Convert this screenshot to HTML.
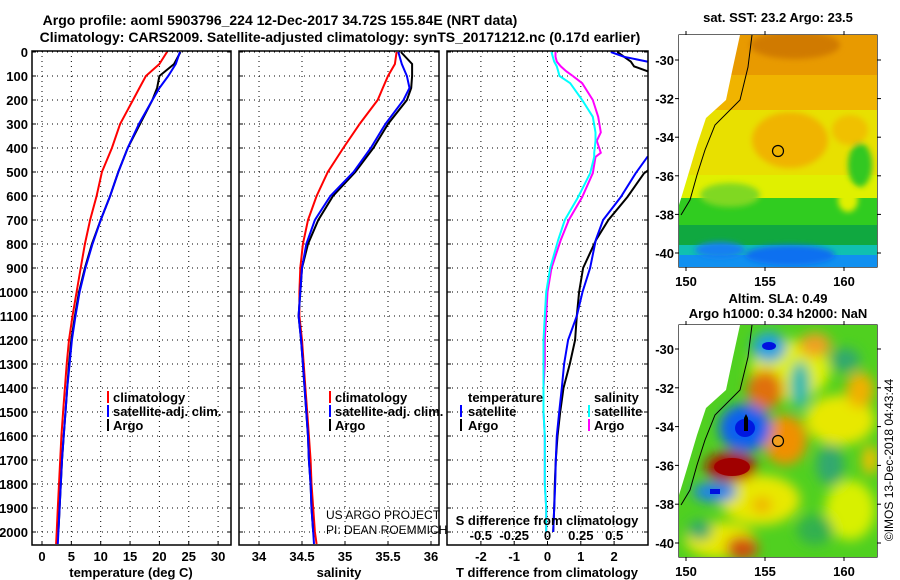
<!DOCTYPE html>
<html><head><meta charset="utf-8"><style>
html,body{margin:0;padding:0;background:#fff;width:900px;height:580px;overflow:hidden}
svg{display:block}
text{font-family:"Liberation Sans",sans-serif;fill:#000}
.b{font-weight:bold;font-size:13px}
.t{font-weight:bold;font-size:14px}
</style></head><body>
<svg id="fig" width="900" height="580" viewBox="0 0 900 580">
<defs>
<clipPath id="c1"><rect x="32" y="51" width="199" height="494"/></clipPath>
<clipPath id="c2"><rect x="239" y="51" width="200" height="494"/></clipPath>
<clipPath id="c3"><rect x="447" y="51" width="201" height="494"/></clipPath>
<clipPath id="m1"><rect x="679" y="35" width="198" height="232"/></clipPath>
<clipPath id="m2"><rect x="679" y="325" width="198" height="232"/></clipPath>
<filter id="bl" x="-50%" y="-50%" width="200%" height="200%"><feGaussianBlur stdDeviation="6"/></filter>
<filter id="bl2" x="-50%" y="-50%" width="200%" height="200%"><feGaussianBlur stdDeviation="3"/></filter>
</defs>
<text class="t" x="280" y="25" text-anchor="middle">Argo profile: aoml 5903796_224 12-Dec-2017 34.72S 155.84E (NRT data)</text>
<text class="t" x="340" y="42" text-anchor="middle">Climatology: CARS2009. Satellite-adjusted climatology: synTS_20171212.nc (0.17d earlier)</text>
<g id="grids"></g>
<g id="series"></g>
<g id="axes"></g>
<g id="maps"></g>
</svg>
<script>
// ---------- data ----------
const depths = [0,50,100,150,200,300,400,500,600,700,800,900,1000,1100,1200,1300,1400,1500,1600,1700,1800,1900,2000,2050];
const tempClim = [21.3,20.0,17.7,16.6,15.5,13.3,11.9,10.2,9.3,8.2,7.3,6.6,5.9,5.2,4.6,4.2,3.9,3.6,3.3,3.1,2.9,2.7,2.5,2.4];
const tempSat  = [23.5,22.8,21.5,20.0,18.8,16.5,14.6,13.0,11.6,10.0,8.6,7.4,6.4,5.7,5.1,4.7,4.3,4.0,3.7,3.4,3.2,3.0,2.8,2.7];
const tempArgo = [23.6,22.5,20.0,19.6,18.8,16.7,14.6,13.0,11.6,10.0,8.5,7.3,6.3,5.6,5.0,4.6,4.3,4.0,3.7,3.4,3.2,3.0,2.8,null];
const salClim  = [35.60,35.58,35.50,35.44,35.38,35.17,34.98,34.80,34.67,34.57,34.51,34.48,34.47,34.47,34.50,34.52,34.54,34.56,34.58,34.60,34.61,34.63,34.65,34.67];
const salSat   = [35.62,35.66,35.72,35.75,35.68,35.47,35.30,35.10,34.83,34.65,34.55,34.50,34.48,34.46,34.49,34.51,34.53,34.55,34.57,34.58,34.60,34.61,34.63,34.64];
const salArgo  = [35.65,35.78,35.78,35.77,35.72,35.50,35.33,35.12,34.86,34.69,34.57,34.50,34.48,34.46,34.49,34.51,34.53,34.55,34.57,34.58,34.60,34.61,34.63,null];
const diffDepths = [0,20,40,60,80,100,130,200,270,335,370,420,437,505,604,700,783,900,1000,1100,1200,1300,1400,1500,1600,1700,1800,1900,2000];
const tDiffSat  = [1.9,2.3,3.0,3.6,4,4,4,4,4,4,4,3.3,3.0,2.65,2.2,1.67,1.45,1.28,1.05,0.88,0.62,0.5,0.43,0.35,0.28,0.25,0.23,0.2,0.17];
const tDiffArgo = [2.1,2.3,2.5,2.6,3.0,3.3,3.6,4,4,4,4,4,3.6,2.9,2.4,1.83,1.46,1.07,0.95,0.88,0.83,0.67,0.48,0.38,0.3,0.25,0.22,0.2,0.17];
const sDiffSat  = [0.03,0.04,0.05,0.07,0.08,0.09,0.17,0.26,0.34,0.36,0.36,0.35,0.35,0.32,0.23,0.13,0.08,0.02,-0.01,-0.02,-0.03,-0.03,-0.03,-0.03,-0.02,-0.02,-0.02,-0.01,-0.01];
const sDiffArgo = [0.06,0.06,0.07,0.10,0.14,0.19,0.26,0.34,0.38,0.40,0.37,0.40,0.36,0.34,0.26,0.16,0.10,0.03,0.0,-0.01,-0.02,-0.02,-0.03,-0.03,-0.02,-0.02,-0.02,-0.01,-0.01];
const depthTicks = [0,100,200,300,400,500,600,700,800,900,1000,1100,1200,1300,1400,1500,1600,1700,1800,1900,2000];
const tempTicks = [0,5,10,15,20,25,30];
const salTicks = [34,34.5,35,35.5,36];
const tDiffTicks = [-2,-1,0,1,2];
const sDiffTicks = [-0.5,-0.25,0,0.25,0.5];
const latTicks = [-30,-32,-34,-36,-38,-40];
const lonTicks = [150,155,160];

// ---------- scales ----------
const yD = d => 52 + d*0.24;
const xT = v => 42 + v*5.87;
const xS = v => 259 + (v-34)*86;
const xTD = v => 547.5 + v*33.3;
const xSD = v => 547.5 + v*133.3;
const NS = 'http://www.w3.org/2000/svg';
function mk(tag, attrs, parent){ const e=document.createElementNS(NS,tag); for(const k in attrs) e.setAttribute(k,attrs[k]); parent.appendChild(e); return e; }
const G = document.getElementById('grids'), S = document.getElementById('series'), A = document.getElementById('axes'), M = document.getElementById('maps');

const panels = [
 {x0:32,x1:231,ticks:tempTicks,sc:xT,clip:'c1',name:'temperature'},
 {x0:239,x1:439,ticks:salTicks,sc:xS,clip:'c2',name:'salinity'},
 {x0:447,x1:648,ticks:tDiffTicks,sc:xTD,clip:'c3',name:'difference'}
];
panels.forEach(p=>{
  depthTicks.forEach(d=>{
    const l = mk('line',{x1:p.x0,x2:p.x1,y1:yD(d),y2:yD(d),stroke:'#000','stroke-width':1,'stroke-dasharray':'1 4'},G);
    
    
    mk('line',{x1:p.x0,x2:p.x0+4,y1:yD(d),y2:yD(d),stroke:'#000'},A);
    mk('line',{x1:p.x1-4,x2:p.x1,y1:yD(d),y2:yD(d),stroke:'#000'},A);
  });
  p.ticks.forEach(t=>{
    const x=p.sc(t);
    const l = mk('line',{x1:x,x2:x,y1:51,y2:545,stroke:'#000','stroke-width':1,'stroke-dasharray':'1 4'},G);
    
    
    mk('line',{x1:x,x2:x,y1:541,y2:545,stroke:'#000'},A);
    const tx = mk('text',{x:x,y:561,'text-anchor':'middle',class:'b'},A);
    tx.textContent = t;
    
    
  });
  const r = mk('rect',{x:p.x0,y:51,width:p.x1-p.x0,height:494,fill:'none',stroke:'#000','stroke-width':1.5},A);
  
  
});
depthTicks.forEach(d=>{
  const tx = mk('text',{x:28,y:yD(d)+5,'text-anchor':'end',class:'b'},A);
  tx.textContent = d;
  
  
});
sDiffTicks.forEach(t=>{
  const tx = mk('text',{x:xSD(t),y:540,'text-anchor':'middle',class:'b'},A);
  tx.textContent = t;
  
  
});

function line(ds, vals, sc, color, clip, name){
  let pts=[];
  vals.forEach((v,i)=>{ if(v!==null) pts.push(sc(v).toFixed(1)+','+yD(ds[i]).toFixed(1)); });
  const pl = mk('polyline',{points:pts.join(' '),fill:'none',stroke:color,'stroke-width':2,'clip-path':'url(#'+clip+')'},S);
  
  
}
line(depths,tempClim,xT,'#f00','c1','temp-climatology-line');
line(depths,tempArgo,xT,'#000','c1','temp-argo-line');
line(depths,tempSat,xT,'#00f','c1','temp-satellite-line');
line(depths,salClim,xS,'#f00','c2','sal-climatology-line');
line(depths,salArgo,xS,'#000','c2','sal-argo-line');
line(depths,salSat,xS,'#00f','c2','sal-satellite-line');
line(diffDepths,tDiffArgo,xTD,'#000','c3','tdiff-argo-line');
line(diffDepths,tDiffSat,xTD,'#00f','c3','tdiff-satellite-line');
line(diffDepths,sDiffArgo,xSD,'#f0f','c3','sdiff-argo-line');
line(diffDepths,sDiffSat,xSD,'#0ff','c3','sdiff-satellite-line');

// ---------- maps ----------
const xLon = (v,m)=> 686 + (v-150)*15.8;
const yLat1 = v => 60 + (-30 - v)*19.3;
const yLat2 = v => 349 + (-30 - v)*19.4;
function mapAxes(y0, yLat, name){
  latTicks.forEach(t=>{
    const y=yLat(t);
    mk('line',{x1:679,x2:675,y1:y,y2:y,stroke:'#000'},A);
    mk('line',{x1:877,x2:881,y1:y,y2:y,stroke:'#000'},A);
    const tx=mk('text',{x:674,y:y+5,'text-anchor':'end',class:'b'},A);
    tx.textContent=t;
    
    
  });
  lonTicks.forEach(t=>{
    const x=xLon(t);
    mk('line',{x1:x,x2:x,y1:y0,y2:y0-4,stroke:'#000'},A);
    mk('line',{x1:x,x2:x,y1:y0+232,y2:y0+236,stroke:'#000'},A);
    const tx=mk('text',{x:x,y:y0+251,'text-anchor':'middle',class:'b'},A);
    tx.textContent=t;
    
    
  });
  const r=mk('rect',{x:679,y:y0,width:198,height:232,fill:'none',stroke:'#000','stroke-width':1.2},A);
  
  
}
// map 1 SST
const g1 = mk('g',{'clip-path':'url(#m1)'},M);


[[35,'#e89a00'],[75,'#f0b400'],[110,'#e8e000'],[175,'#e0f000'],[198,'#30cc20'],[225,'#10a840'],[245,'#10c0b0'],[255,'#1090f0']].forEach((b,i,a)=>{
  mk('rect',{x:679,y:b[0],width:198,height:(i<a.length-1?a[i+1][0]:267)-b[0]+1,fill:b[1]},g1);
});
const g1b = mk('g',{filter:'url(#bl2)'},g1);
mk('ellipse',{cx:795,cy:45,rx:45,ry:14,fill:'#d07a00'},g1b);
mk('ellipse',{cx:790,cy:140,rx:38,ry:28,fill:'#f0b400'},g1b);
mk('ellipse',{cx:850,cy:130,rx:18,ry:15,fill:'#f0c000'},g1b);
mk('ellipse',{cx:860,cy:165,rx:12,ry:22,fill:'#30c820'},g1b);
mk('ellipse',{cx:848,cy:200,rx:10,ry:12,fill:'#e0f000'},g1b);
mk('ellipse',{cx:730,cy:195,rx:30,ry:12,fill:'#80d820'},g1b);
mk('ellipse',{cx:790,cy:255,rx:45,ry:10,fill:'#1070f0'},g1b);
mk('ellipse',{cx:720,cy:250,rx:25,ry:8,fill:'#1880f0'},g1b);
const coast = '679,35 745,35 738,67 732,100 710,120 700,147 692,173 685,193 681,207 679,210';
mk('polygon',{points:'679,35 740,35 733,67 726,100 706,118 697,145 689,172 683,192 679,205',fill:'#fff'},g1);
mk('polyline',{points:'752,35 748,67 740,100 715,125 705,150 697,175 690,200 681,215',fill:'none',stroke:'#000','stroke-width':1},g1);
mk('circle',{cx:778,cy:151,r:5.5,fill:'none',stroke:'#000','stroke-width':1.2},g1);
mapAxes(35,yLat1,'sst-map');
// map 2 SLA
const g2 = mk('g',{'clip-path':'url(#m2)'},M);


mk('rect',{x:679,y:325,width:198,height:232,fill:'#50d020'},g2);
const g2b = mk('g',{filter:'url(#bl)'},g2);
const blobs = [
 [790,370,40,30,'#e0f000'],[840,420,35,25,'#e8e800'],[760,500,40,25,'#e8e800'],[720,540,35,18,'#e8e800'],[850,510,25,30,'#d8f000'],
 [769,347,17,15,'#20a0e0'],[815,345,16,12,'#f0a020'],[800,385,10,24,'#20b8b0'],[845,360,15,12,'#30a870'],
 [765,390,18,20,'#e07010'],[785,440,22,25,'#f09000'],[860,390,14,18,'#f0b000'],
 [745,428,26,24,'#1060f0'],[731,467,26,15,'#b01000'],[715,492,22,10,'#1a80f0'],
 [830,465,14,20,'#30a870'],[762,505,10,8,'#f0b000'],[742,548,16,12,'#d05010'],[700,530,12,10,'#30a870'],[815,530,18,15,'#30b050'],[870,460,8,15,'#f0c000']
];
blobs.forEach(b=> mk('ellipse',{cx:b[0],cy:b[1],rx:b[2],ry:b[3],fill:b[4]},g2b));
mk('ellipse',{cx:769,cy:346,rx:7,ry:4,fill:'#0010e0'},g2);
mk('ellipse',{cx:745,cy:428,rx:10,ry:9,fill:'#0018e0'},g2);
mk('ellipse',{cx:732,cy:467,rx:18,ry:9,fill:'#a00000'},g2);
mk('rect',{x:710,y:489,width:10,height:5,fill:'#0010e0'},g2);
mk('polygon',{points:'679,325 740,325 733,357 726,390 706,408 697,435 689,462 683,482 679,495',fill:'#fff'},g2);
mk('polyline',{points:'752,325 748,357 740,390 715,415 705,440 697,465 690,490 681,505',fill:'none',stroke:'#000','stroke-width':1},g2);
mk('circle',{cx:778,cy:441,r:5.5,fill:'#f0a020',stroke:'#000','stroke-width':1.2},g2);
mk('polygon',{points:'744,431 748,431 748,418 746,414 744,418',fill:'#000'},g2);
mapAxes(325,yLat2,'sla-map');
</script>
<svg width="0" height="0"></svg>
<div style="position:absolute;left:0;top:0;width:900px;height:580px;pointer-events:none">
<svg width="900" height="580" style="position:absolute;left:0;top:0">
<g>
<rect x="107" y="391" width="2" height="12" fill="#f00"/><text class="b" x="113" y="402">climatology</text>
<rect x="107" y="405" width="2" height="12" fill="#00f"/><text class="b" x="113" y="416">satellite-adj. clim.</text>
<rect x="107" y="419" width="2" height="12" fill="#000"/><text class="b" x="113" y="430">Argo</text>
</g>
<g>
<rect x="329" y="391" width="2" height="12" fill="#f00"/><text class="b" x="335" y="402">climatology</text>
<rect x="329" y="405" width="2" height="12" fill="#00f"/><text class="b" x="335" y="416">satellite-adj. clim.</text>
<rect x="329" y="419" width="2" height="12" fill="#000"/><text class="b" x="335" y="430">Argo</text>
</g>
<g>
<text class="b" x="468" y="402">temperature</text>
<rect x="460" y="405" width="2" height="12" fill="#00f"/><text class="b" x="468" y="416">satellite</text>
<rect x="460" y="419" width="2" height="12" fill="#000"/><text class="b" x="468" y="430">Argo</text>
<text class="b" x="594" y="402">salinity</text>
<rect x="588" y="405" width="2" height="12" fill="#0ff"/><text class="b" x="594" y="416">satellite</text>
<rect x="588" y="419" width="2" height="12" fill="#f0f"/><text class="b" x="594" y="430">Argo</text>
</g>
<text x="326" y="519" style="font-size:12px">US ARGO PROJECT</text>
<text x="326" y="534" style="font-size:12px">PI: DEAN ROEMMICH</text>
<text class="b" x="547" y="525" text-anchor="middle">S difference from climatology</text>
<text class="b" x="131" y="577" text-anchor="middle">temperature (deg C)</text>
<text class="b" x="339" y="577" text-anchor="middle">salinity</text>
<text class="b" x="547" y="577" text-anchor="middle">T difference from climatology</text>
<text class="b" x="778" y="22" text-anchor="middle">sat. SST: 23.2 Argo: 23.5</text>
<text class="b" x="778" y="303" text-anchor="middle">Altim. SLA: 0.49</text>
<text class="b" x="778" y="318" text-anchor="middle">Argo h1000: 0.34 h2000: NaN</text>
<text x="893" y="460" text-anchor="middle" transform="rotate(-90 893 460)" style="font-size:12px">©IMOS 13-Dec-2018 04:43:44</text>
</svg></div>
</body></html>
